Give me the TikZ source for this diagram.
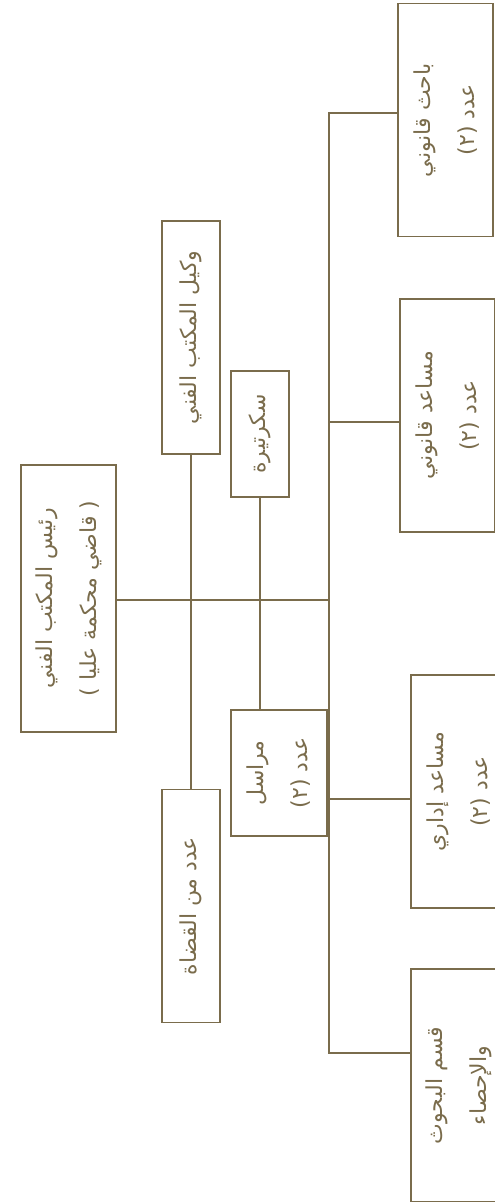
\documentclass[tikz,border=0pt]{standalone}
\usepackage{fontspec}
\newfontfamily\arabicfont[Script=Arabic]{DejaVu Sans}
\TeXXeTstate=1
\definecolor{chartline}{RGB}{122,108,76}

\begin{document}
\begin{tikzpicture}[
  x=1pt, y=-1pt,
  unit/.style={draw=chartline, line width=1.3pt, rotate=90, align=center, inner sep=2pt,
    text=chartline, font=\arabicfont\fontsize{22}{44}\selectfont},
  wide/.style={unit, minimum width=233pt, minimum height=95pt},
  narrow/.style={unit, minimum width=233pt, minimum height=58pt},
  short/.style={unit, minimum width=126pt, minimum height=58pt},
  link/.style={draw=chartline, line width=1.3pt}
]
\useasboundingbox (0,0) rectangle (495,1202);
\clip (0,0) rectangle (495,1202);

\node[unit, minimum width=267pt, minimum height=95pt] (head) at (68.5,598.5)
  {\beginR رئيس المكتب الفني\endR\\\beginR( قاضي محكمة عليا )\endR};
\node[narrow] (deputy) at (191,337.5) {\beginR وكيل المكتب الفني\endR};
\node[short] (secretary) at (260,434) {\beginR سكرتيرة\endR};
\node[short, minimum height=96pt] (courier) at (279,773)
  {\beginR مراسل\endR\\\beginR عدد (٢)\endR};
\node[narrow] (judges) at (191,906) {\beginR عدد من القضاة\endR};

\node[wide] (researcher) at (445.5,120)
  {\beginR باحث قانوني\endR\\\beginR عدد (٢)\endR};
\node[wide] (legalaid) at (447.5,415.5)
  {\beginR مساعد قانوني\endR\\\beginR عدد (٢)\endR};
\node[wide] (adminaid) at (458.5,791.5)
  {\beginR مساعد إداري\endR\\\beginR عدد (٢)\endR};
\node[wide] (studies) at (458.5,1085.5)
  {\beginR قسم البحوث\endR\\\beginR والإحصاء\endR};

\coordinate (trunktop) at (329,113);
\coordinate (trunkbot) at (329,1053);
\coordinate (midhead) at (329,600);
\coordinate (midlegal) at (329,422);
\coordinate (midadmin) at (329,799);

\draw[link] (researcher.north |- trunktop) -- (trunktop) -- (trunkbot) -- (trunkbot -| studies.north);
\draw[link] (head.south |- midhead) -- (midhead);
\draw[link] (midlegal) -- (midlegal -| legalaid.north);
\draw[link] (midadmin) -- (midadmin -| adminaid.north);
\draw[link] (deputy.west) -- (judges.east);
\draw[link] (secretary.west) -- (secretary.west |- courier.east);
\end{tikzpicture}
\end{document}
